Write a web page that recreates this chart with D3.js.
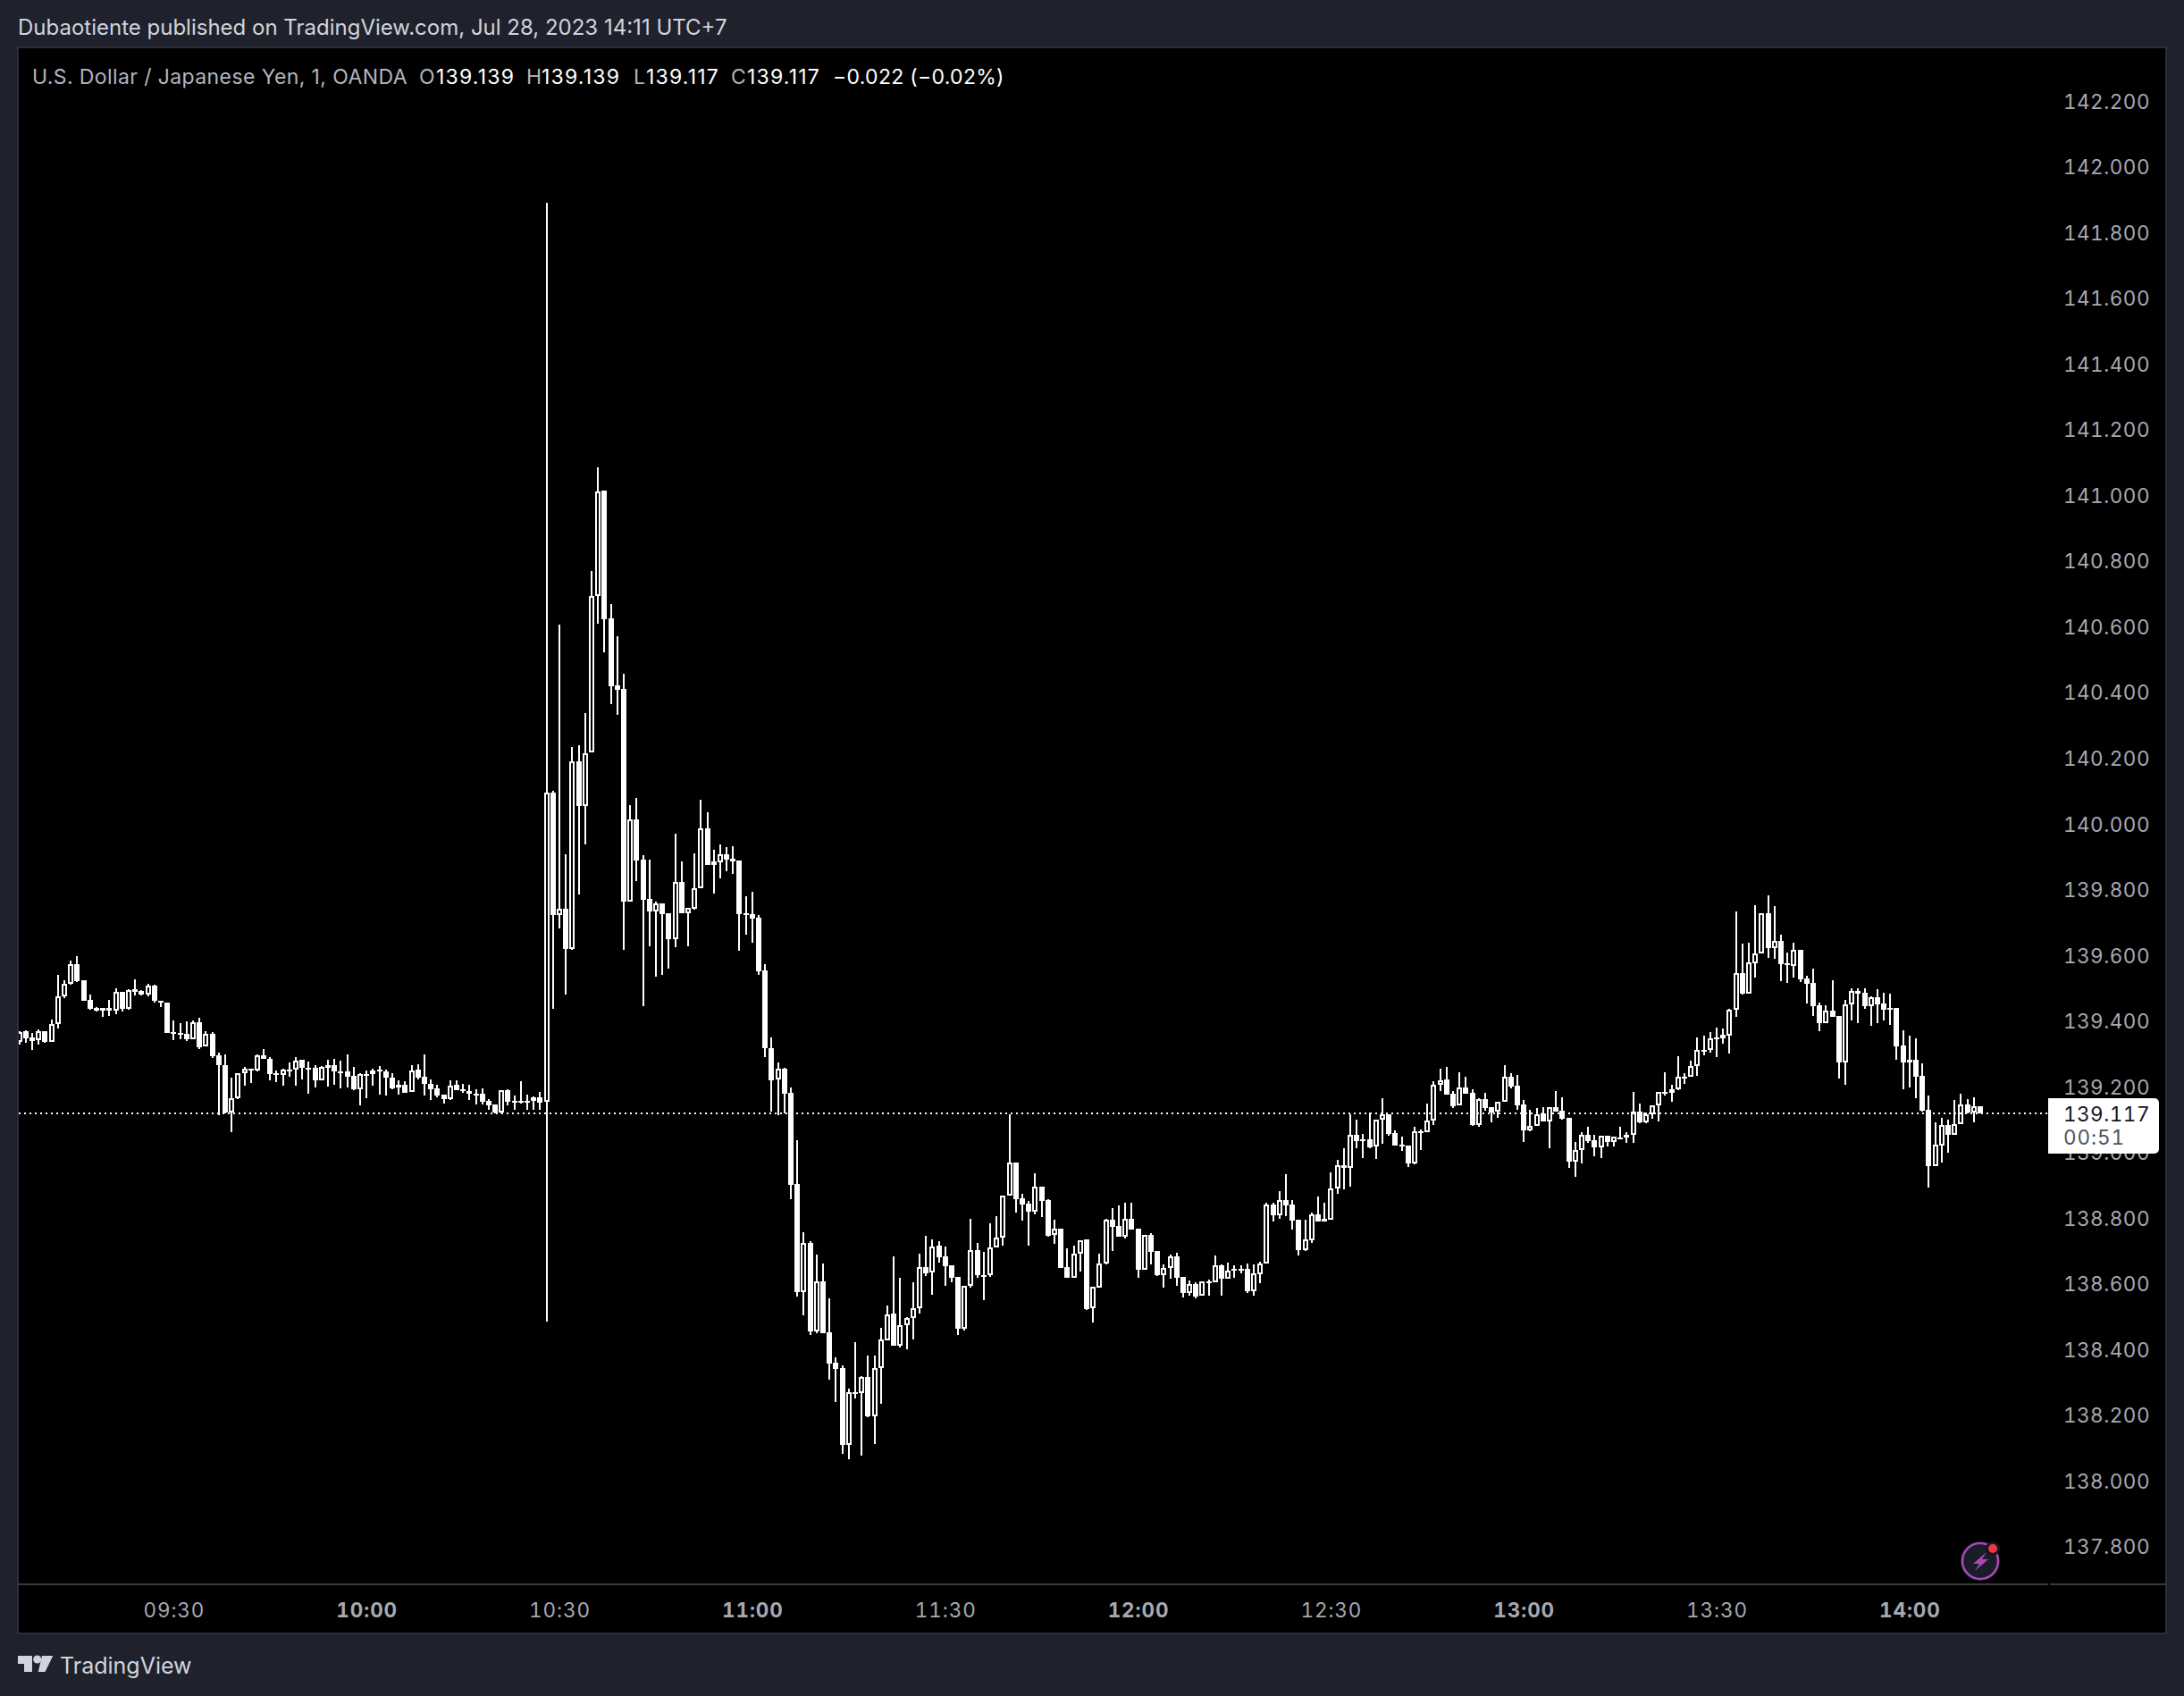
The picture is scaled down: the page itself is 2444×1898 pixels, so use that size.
<!DOCTYPE html>
<html>
<head>
<meta charset="utf-8">
<script src="https://cdn.jsdelivr.net/npm/d3@7"></script>
<style>
  html, body { margin: 0; padding: 0; background: #1f222d; }
  svg { display: block; font-family: Inter, "Noto Sans", sans-serif; }
  .num { font-variant-numeric: tabular-nums; }
</style>
</head>
<body>
<div id="chart"></div>
<script>
// 1 minute bars, first bar is 09:06 (minutes since midnight)
const firstMinute = 546;
const opens = [
139.337,139.368,139.349,139.342,139.369,139.337,139.389,139.476,139.514,139.572,
139.523,139.463,139.439,139.439,139.439,139.432,139.488,139.437,139.496,139.491,
139.481,139.508,139.461,139.455,139.366,139.363,139.360,139.345,139.396,139.321,
139.361,139.295,139.266,139.121,139.164,139.240,139.254,139.249,139.294,139.285,
139.240,139.235,139.251,139.251,139.281,139.256,139.257,139.220,139.265,139.265,
139.246,139.246,139.233,139.193,139.238,139.237,139.252,139.246,139.227,139.205,
139.205,139.183,139.251,139.229,139.208,139.194,139.175,139.162,139.205,139.191,
139.186,139.179,139.178,139.156,139.145,139.121,139.189,139.157,139.156,139.156,
139.156,139.167,139.155,140.095,139.723,139.741,139.618,140.190,140.054,140.217,
140.693,141.015,140.626,140.422,140.411,139.764,140.013,139.891,139.771,139.734,
139.758,139.728,139.649,139.823,139.729,139.741,139.805,139.987,139.885,139.884,
139.908,139.893,139.889,139.728,139.726,139.714,139.553,139.318,139.221,139.255,
139.180,138.903,138.575,138.723,138.455,138.607,138.451,138.359,138.343,138.109,
138.270,138.268,138.316,138.197,138.342,138.428,138.509,138.411,138.473,138.494,
138.525,138.651,138.633,138.715,138.682,138.656,138.621,138.462,138.592,138.701,
138.627,138.625,138.711,138.739,138.869,138.969,138.859,138.843,138.820,138.896,
138.854,138.747,138.767,138.651,138.619,138.690,138.734,138.525,138.589,138.661,
138.795,138.775,138.742,138.797,138.767,138.643,138.748,138.699,138.626,138.647,
138.683,138.621,138.572,138.599,138.562,138.607,138.605,138.656,138.615,138.645,
138.645,138.645,138.577,138.629,138.660,138.841,138.808,138.854,138.841,138.795,
138.702,138.731,138.811,138.797,138.795,138.889,138.961,138.953,139.053,139.039,
139.039,139.017,139.098,139.116,139.059,139.023,139.020,138.966,139.065,139.062,
139.096,139.205,139.222,139.178,139.142,139.197,139.181,139.083,139.162,139.137,
139.123,139.153,139.230,139.203,139.146,139.067,139.079,139.117,139.095,139.137,
139.126,139.105,138.971,139.006,139.053,139.037,139.015,139.050,139.032,139.046,
139.053,139.052,139.124,139.091,139.115,139.142,139.184,139.182,139.193,139.231,
139.230,139.262,139.312,139.311,139.349,139.358,139.356,139.433,139.545,139.483,
139.576,139.604,139.728,139.622,139.643,139.574,139.567,139.616,139.529,139.516,
139.448,139.393,139.431,139.415,139.273,139.449,139.491,139.486,139.445,139.472,
139.453,139.438,139.439,139.325,139.281,139.282,139.233,139.129,138.958,139.021,
139.083,139.053,139.087,139.146,139.121,139.139
];
const highs = [
139.369,139.372,139.364,139.373,139.369,139.404,139.540,139.523,139.583,139.597,
139.523,139.480,139.441,139.439,139.463,139.498,139.488,139.496,139.527,139.494,
139.513,139.510,139.461,139.457,139.402,139.394,139.398,139.400,139.409,139.368,
139.366,139.303,139.298,139.227,139.240,139.259,139.254,139.298,139.315,139.290,
139.249,139.255,139.274,139.290,139.281,139.276,139.266,139.262,139.282,139.285,
139.279,139.298,139.260,139.241,139.249,139.253,139.263,139.252,139.241,139.218,
139.217,139.266,139.268,139.298,139.222,139.206,139.175,139.219,139.219,139.208,
139.206,139.192,139.194,139.162,139.145,139.189,139.192,139.173,139.217,139.176,
139.169,139.184,141.890,140.101,140.606,139.908,140.234,140.240,140.337,140.769,
141.086,141.015,140.669,140.572,140.457,140.058,140.079,139.904,139.891,139.763,
139.758,139.728,139.970,139.885,139.743,139.910,140.073,140.035,139.921,139.938,
139.929,139.932,139.889,139.780,139.793,139.721,139.572,139.349,139.273,139.257,
139.197,139.037,138.757,138.730,138.689,138.662,138.556,138.375,138.352,138.280,
138.422,138.318,138.381,138.381,138.465,138.533,138.683,138.618,138.498,138.604,
138.692,138.746,138.734,138.730,138.713,138.656,138.621,138.593,138.798,138.724,
138.697,138.784,138.805,138.869,139.116,138.969,138.873,138.851,138.937,138.896,
138.857,138.795,138.767,138.707,138.715,138.733,138.734,138.590,138.691,138.798,
138.829,138.838,138.846,138.846,138.767,138.747,138.753,138.699,138.658,138.689,
138.694,138.621,138.609,138.604,138.606,138.611,138.686,138.659,138.664,138.656,
138.656,138.661,138.659,138.667,138.845,138.846,138.882,138.933,138.854,138.795,
138.795,138.816,138.865,138.846,138.939,138.977,139.012,139.116,139.099,139.056,
139.121,139.098,139.165,139.116,139.067,139.048,139.020,139.078,139.069,139.148,
139.216,139.255,139.260,139.186,139.243,139.230,139.192,139.165,139.181,139.137,
139.153,139.264,139.241,139.235,139.159,139.129,139.135,139.137,139.136,139.186,
139.167,139.105,139.031,139.061,139.078,139.053,139.049,139.050,139.047,139.078,
139.061,139.184,139.148,139.121,139.142,139.183,139.243,139.205,139.292,139.241,
139.279,139.350,139.355,139.366,139.380,139.377,139.437,139.733,139.635,139.638,
139.752,139.727,139.782,139.750,139.662,139.608,139.638,139.616,139.537,139.559,
139.456,139.448,139.524,139.415,139.464,139.499,139.499,139.499,139.475,139.497,
139.486,139.483,139.439,139.371,139.355,139.347,139.271,139.173,139.091,139.105,
139.099,139.159,139.178,139.162,139.167,139.139
];
const lows = [
139.328,139.334,139.312,139.329,139.334,139.337,139.378,139.470,139.509,139.519,
139.460,139.435,139.429,139.413,139.415,139.419,139.429,139.434,139.478,139.478,
139.476,139.456,139.442,139.364,139.342,139.345,139.339,139.345,139.315,139.321,
139.287,139.114,139.119,139.060,139.162,139.204,139.211,139.246,139.283,139.219,
139.214,139.204,139.231,139.204,139.222,139.179,139.198,139.219,139.200,139.206,
139.195,139.197,139.188,139.143,139.165,139.204,139.176,139.173,139.192,139.176,
139.182,139.183,139.222,139.173,139.158,139.168,139.149,139.158,139.189,139.182,
139.160,139.146,139.146,139.129,139.119,139.119,139.144,139.129,139.149,139.129,
139.128,139.128,138.485,139.436,139.682,139.481,139.615,139.786,139.938,140.217,
140.609,140.523,140.364,140.332,139.617,139.764,139.826,139.445,139.627,139.535,
139.540,139.559,139.625,139.728,139.627,139.739,139.805,139.874,139.788,139.834,
139.855,139.848,139.613,139.662,139.638,139.540,139.291,139.124,139.114,139.118,
138.857,138.561,138.503,138.444,138.449,138.449,138.308,138.240,138.082,138.066,
138.251,138.077,138.194,138.112,138.234,138.428,138.411,138.406,138.400,138.430,
138.510,138.622,138.566,138.663,138.594,138.604,138.444,138.458,138.588,138.619,
138.551,138.621,138.711,138.716,138.869,138.816,138.792,138.716,138.811,138.802,
138.742,138.721,138.648,138.618,138.619,138.637,138.520,138.482,138.589,138.659,
138.699,138.743,138.737,138.765,138.618,138.643,138.659,138.623,138.588,138.615,
138.593,138.558,138.563,138.555,138.562,138.563,138.605,138.563,138.615,138.618,
138.631,138.572,138.563,138.601,138.660,138.789,138.797,138.805,138.765,138.686,
138.699,138.724,138.789,138.790,138.795,138.874,138.887,138.895,139.012,138.982,
139.012,138.980,139.026,139.050,139.020,139.004,138.955,138.963,139.007,139.062,
139.083,139.186,139.175,139.135,139.142,139.178,139.080,139.078,139.127,139.091,
139.105,139.153,139.195,139.129,139.031,139.064,139.079,139.094,139.012,139.124,
139.099,138.952,138.925,138.966,139.029,138.988,138.982,139.018,139.018,139.039,
139.029,139.029,139.088,139.088,139.102,139.094,139.173,139.154,139.189,139.208,
139.230,139.233,139.295,139.303,139.290,139.331,139.301,139.412,139.480,139.483,
139.532,139.604,139.592,139.589,139.521,139.516,139.532,139.518,139.453,139.415,
139.369,139.393,139.412,139.224,139.205,139.401,139.393,139.437,139.385,139.393,
139.401,139.388,139.282,139.192,139.197,139.165,139.124,138.893,138.958,138.969,
138.999,139.053,139.087,139.118,139.091,139.117
];
const closes = [
139.366,139.346,139.339,139.369,139.336,139.389,139.476,139.514,139.572,139.520,
139.461,139.437,139.430,139.430,139.430,139.487,139.437,139.495,139.489,139.481,
139.507,139.460,139.455,139.364,139.362,139.359,139.344,139.396,139.320,139.360,
139.293,139.264,139.121,139.164,139.240,139.253,139.252,139.295,139.283,139.239,
139.235,139.251,139.249,139.280,139.256,139.255,139.220,139.259,139.258,139.245,
139.245,139.231,139.193,139.238,139.237,139.250,139.246,139.226,139.195,139.196,
139.182,139.250,139.228,139.208,139.193,139.174,139.162,139.204,139.190,139.185,
139.179,139.177,139.155,139.144,139.121,139.188,139.155,139.155,139.154,139.154,
139.166,139.152,140.095,139.722,139.740,139.618,140.190,140.054,140.215,140.693,
141.013,140.623,140.418,140.408,139.763,140.012,139.889,139.769,139.733,139.757,
139.726,139.649,139.822,139.728,139.743,139.805,139.985,139.874,139.874,139.907,
139.891,139.885,139.726,139.722,139.711,139.551,139.318,139.220,139.253,139.178,
138.902,138.575,138.723,138.455,138.606,138.449,138.357,138.340,138.109,138.269,
138.268,138.315,138.196,138.342,138.429,138.507,138.411,138.473,138.495,138.525,
138.650,138.631,138.714,138.680,138.653,138.618,138.462,138.593,138.701,138.626,
138.625,138.711,138.739,138.869,138.968,138.857,138.841,138.819,138.895,138.852,
138.746,138.767,138.648,138.618,138.690,138.733,138.523,138.590,138.661,138.794,
138.774,138.743,138.796,138.765,138.642,138.747,138.697,138.625,138.647,138.683,
138.618,138.572,138.598,138.561,138.606,138.605,138.655,138.615,138.639,138.642,
138.642,138.577,138.630,138.660,138.840,138.808,138.854,138.838,138.792,138.702,
138.734,138.810,138.789,138.790,138.889,138.960,138.953,139.052,139.034,139.036,
139.015,139.098,139.115,139.056,139.020,139.020,138.966,139.063,139.062,139.096,
139.205,139.220,139.175,139.139,139.196,139.178,139.083,139.162,139.135,139.121,
139.153,139.230,139.200,139.143,139.067,139.079,139.115,139.094,139.136,139.124,
139.101,138.971,139.006,139.052,139.034,139.015,139.049,139.031,139.047,139.044,
139.046,139.123,139.091,139.115,139.142,139.183,139.182,139.193,139.229,139.228,
139.262,139.311,139.310,139.348,139.347,139.346,139.433,139.545,139.483,139.577,
139.604,139.727,139.622,139.642,139.573,139.570,139.615,139.526,139.513,139.445,
139.393,139.430,139.412,139.273,139.449,139.490,139.484,139.445,139.472,139.450,
139.434,139.436,139.322,139.273,139.274,139.230,139.126,138.958,139.022,139.082,
139.053,139.087,139.145,139.121,139.139,139.117
];

const priceTicks = d3.range(0, 23).map((i) => 137.8 + i * 0.2);
const timeTicks = [570, 600, 630, 660, 690, 720, 750, 780, 810, 840];
const hourTicks = new Set([600, 660, 720, 780, 840]);
const lastPrice = 139.117;

const width = 2444;
const height = 1898;
const pane = { left: 20, top: 53, right: 2424, bottom: 1828, axisX: 2293, axisY: 1773 };
const bg = "#1f222d";
const edge = "#2a2e39";
const axisText = "#a6a9b2";
const numSize = 22.5;

const candles = opens.map((open, i) => ({
  minute: firstMinute + i,
  open,
  high: highs[i],
  low: lows[i],
  close: closes[i],
}));

const x = d3.scaleLinear()
  .domain([firstMinute, firstMinute + candles.length - 1])
  .range([21.7, 2216]);

const y = d3.scaleLinear()
  .domain([137.8, 142.2])
  .range([1730.6, 113.2]);

const svg = d3.select("#chart")
  .append("svg")
  .attr("width", width)
  .attr("height", height);

svg.append("rect")
  .attr("width", width)
  .attr("height", height)
  .attr("fill", bg);

svg.append("rect")
  .attr("x", pane.left)
  .attr("y", pane.top)
  .attr("width", pane.right - pane.left)
  .attr("height", pane.bottom - pane.top)
  .attr("fill", "#000")
  .attr("stroke", edge)
  .attr("stroke-width", 2);

svg.append("clipPath")
  .attr("id", "plot-clip")
  .append("rect")
  .attr("x", pane.left + 1)
  .attr("y", pane.top)
  .attr("width", pane.axisX - pane.left)
  .attr("height", pane.axisY - pane.top);

// Header
svg.append("text")
  .attr("x", 20)
  .attr("y", 39)
  .attr("font-size", 24)
  .attr("fill", "#d1d4dc")
  .text("Dubaotiente published on TradingView.com, Jul 28, 2023 14:11 UTC+7");

// Legend row
const legendParts = [
  { x: 36, text: "U.S. Dollar / Japanese Yen, 1, OANDA", fill: "#b2b5be", spacing: 0.4 },
  { x: 469, text: "O", fill: "#b2b5be", spacing: 0 },
  { x: 488, text: "139.139", fill: "#fff", spacing: 1.2 },
  { x: 589, text: "H", fill: "#b2b5be", spacing: 0 },
  { x: 606, text: "139.139", fill: "#fff", spacing: 1.2 },
  { x: 709, text: "L", fill: "#b2b5be", spacing: 0 },
  { x: 723, text: "139.117", fill: "#fff", spacing: 1.2 },
  { x: 818, text: "C", fill: "#b2b5be", spacing: 0 },
  { x: 836, text: "139.117", fill: "#fff", spacing: 1.2 },
  { x: 932, text: "−0.022 (−0.02%)", fill: "#fff", spacing: 0.3 },
];

svg.append("g")
  .attr("class", "legend")
  .selectAll("text")
  .data(legendParts)
  .join("text")
  .attr("x", (d) => d.x)
  .attr("y", 94)
  .attr("font-size", 23)
  .attr("letter-spacing", (d) => d.spacing)
  .attr("fill", (d) => d.fill)
  .text((d) => d.text);

// Price axis, the last price label sits over it
const yAxisG = svg.append("g")
  .attr("class", "y-axis")
  .attr("transform", "translate(2406,0)")
  .call(d3.axisLeft(y).tickValues(priceTicks).tickFormat(d3.format(".3f")).tickSize(0));
yAxisG.select(".domain").remove();
yAxisG.selectAll("text")
  .attr("class", "num")
  .attr("x", 0)
  .attr("dy", "0.36em")
  .attr("font-family", "Inter")
  .attr("font-size", numSize)
  .attr("letter-spacing", 0.5)
  .attr("fill", axisText);

// Time axis
const xAxisG = svg.append("g")
  .attr("class", "x-axis")
  .attr("transform", "translate(0,1802)")
  .call(d3.axisBottom(x)
    .tickValues(timeTicks)
    .tickFormat((m) => `${d3.format("02")(Math.floor(m / 60))}:${d3.format("02")(m % 60)}`)
    .tickSize(0)
    .tickPadding(0));
xAxisG.select(".domain").remove();
xAxisG.selectAll("text")
  .attr("class", "num")
  .attr("y", 0)
  .attr("dy", "0.36em")
  .attr("font-family", "Inter")
  .attr("font-size", numSize)
  .attr("letter-spacing", 0.9)
  .attr("font-weight", (m) => (hourTicks.has(m) ? 700 : 400))
  .attr("fill", axisText);

// Separator under the plot
svg.append("line")
  .attr("x1", pane.left)
  .attr("x2", pane.right)
  .attr("y1", pane.axisY)
  .attr("y2", pane.axisY)
  .attr("stroke", "#363a45")
  .attr("stroke-width", 2);
svg.append("rect")
  .attr("x", pane.axisX - 1)
  .attr("y", pane.axisY - 1)
  .attr("width", 2)
  .attr("height", 2)
  .attr("fill", "#000");

// Candles
const candleG = svg.append("g")
  .attr("class", "candles")
  .attr("clip-path", "url(#plot-clip)")
  .attr("shape-rendering", "crispEdges");

const cx = (d) => Math.round(x(d.minute));
const bodyTop = (d) => Math.round(y(Math.max(d.open, d.close)));
const bodyBottom = (d) => Math.max(bodyTop(d) + 2, Math.round(y(Math.min(d.open, d.close))));

candleG.selectAll("rect.wick")
  .data(candles)
  .join("rect")
  .attr("class", "wick")
  .attr("x", (d) => cx(d) - 1)
  .attr("y", (d) => Math.round(y(d.high)))
  .attr("width", 2)
  .attr("height", (d) => Math.max(2, Math.round(y(d.low)) - Math.round(y(d.high))))
  .attr("fill", "#fff");

// down bars are solid white
candleG.selectAll("rect.down")
  .data(candles.filter((d) => d.close <= d.open))
  .join("rect")
  .attr("class", "down")
  .attr("x", (d) => cx(d) - 3)
  .attr("y", bodyTop)
  .attr("width", 6)
  .attr("height", (d) => bodyBottom(d) - bodyTop(d))
  .attr("fill", "#fff");

// up bars are black with a white border
candleG.selectAll("rect.up")
  .data(candles.filter((d) => d.close > d.open))
  .join("rect")
  .attr("class", "up")
  .attr("x", (d) => cx(d) - 2)
  .attr("y", (d) => bodyTop(d) + 1)
  .attr("width", 4)
  .attr("height", (d) => Math.max(1, bodyBottom(d) - bodyTop(d) - 2))
  .attr("fill", "#000")
  .attr("stroke", "#fff")
  .attr("stroke-width", 2);

// Last price line
svg.append("line")
  .attr("x1", pane.left + 1)
  .attr("x2", pane.axisX)
  .attr("y1", Math.round(y(lastPrice)))
  .attr("y2", Math.round(y(lastPrice)))
  .attr("stroke", "#fff")
  .attr("stroke-width", 2)
  .attr("stroke-dasharray", "2 4")
  .attr("shape-rendering", "crispEdges");

// Last price label, rounded on the right only
svg.append("path")
  .attr("d", "M2292 1229H2411a5 5 0 0 1 5 5V1286a5 5 0 0 1 -5 5H2292Z")
  .attr("fill", "#fff");
svg.append("text")
  .attr("class", "num")
  .attr("x", 2406)
  .attr("y", y(lastPrice))
  .attr("dy", "0.36em")
  .attr("text-anchor", "end")
  .attr("font-size", numSize)
  .attr("letter-spacing", 0.5)
  .attr("fill", "#131722")
  .text(d3.format(".3f")(lastPrice));
svg.append("text")
  .attr("class", "num")
  .attr("x", 2309)
  .attr("y", 1273)
  .attr("dy", "0.36em")
  .attr("font-size", numSize)
  .attr("letter-spacing", 0.9)
  .attr("fill", "#50535e")
  .text("00:51");

// Lightning badge
const badge = svg.append("g").attr("transform", "translate(2216,1747)");
badge.append("circle").attr("r", 22).attr("fill", "#1a1d28");
badge.append("circle")
  .attr("r", 20)
  .attr("fill", "#1a1d28")
  .attr("stroke", "#ab47bc")
  .attr("stroke-width", 2.5);
badge.append("path")
  .attr("d", "M7 -10 L-8 3 L-1 3 L-6 11 L9 -2 L2 -2 Z")
  .attr("fill", "#ab47bc");
badge.append("circle").attr("cx", 14).attr("cy", -14).attr("r", 8).attr("fill", "#131722");
badge.append("circle").attr("cx", 14).attr("cy", -14).attr("r", 5).attr("fill", "#f23645");

// TradingView logo
const logo = svg.append("g").attr("fill", "#d1d4dc");
logo.append("path").attr("d", "M20 1853H36V1871H27V1862H20Z");
logo.append("circle").attr("cx", 41.7).attr("cy", 1857).attr("r", 4.5);
logo.append("path").attr("d", "M47 1853H59.3L50.5 1871H42.7Z");
logo.append("text")
  .attr("x", 67)
  .attr("y", 1873)
  .attr("font-size", 25)
  .text("TradingView");
</script>
</body>
</html>
